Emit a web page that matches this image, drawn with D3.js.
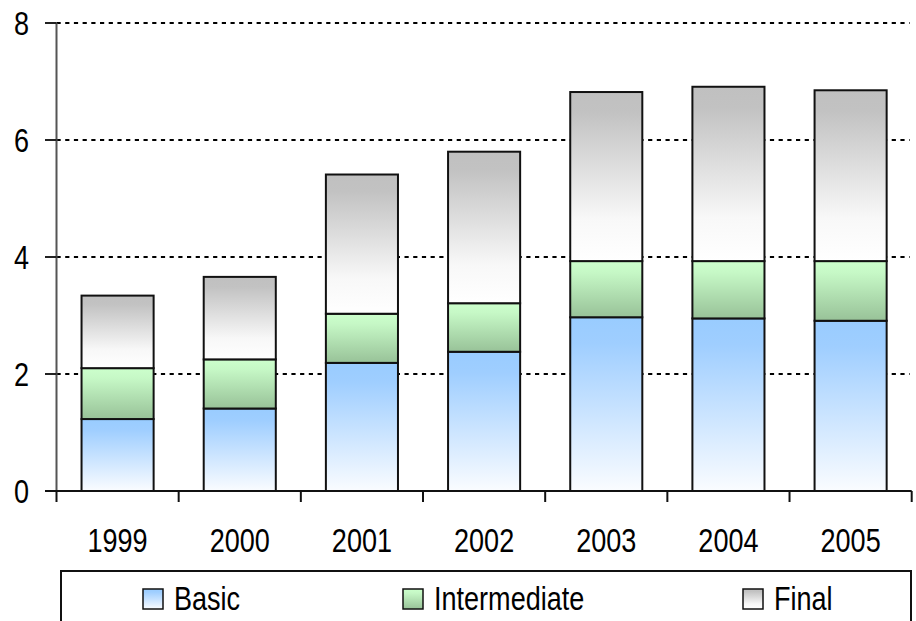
<!DOCTYPE html>
<html><head><meta charset="utf-8">
<script src="https://cdn.jsdelivr.net/npm/d3@7"></script>
<style>
html,body{margin:0;padding:0;background:#fff;}
svg{display:block;}
text{font-family:"Liberation Sans",Arial,sans-serif;fill:#000;}
</style></head>
<body>
<svg id="c" width="916" height="621"></svg>
<script>
const years = ["1999","2000","2001","2002","2003","2004","2005"];
const basic = [1.23, 1.41, 2.19, 2.38, 2.97, 2.95, 2.91];
const intermediate = [0.87, 0.84, 0.84, 0.83, 0.96, 0.98, 1.02];
const finalS = [1.24, 1.41, 2.38, 2.59, 2.89, 2.98, 2.92];
const seriesNames = ["Basic","Intermediate","Final"];
const yTicks = [0,2,4,6,8];

const svg = d3.select("#c");
const pLeft = 56.5, pRight = 911.7, pTop = 23, pBottom = 491;
const narrow = 0.82;

const x = d3.scaleBand().domain(years).range([pLeft, pRight]).paddingInner(0.41).paddingOuter(0.205);
const y = d3.scaleLinear().domain([0, 8]).range([pBottom, pTop]);

// gradients
const defs = svg.append("defs");
const grads = [
  {id:"gB", stops:[[0,"#99CCFF"],[0.15,"#9FCEFF"],[1,"#FAFCFF"]]},
  {id:"gI", stops:[[0,"#CCFFCC"],[0.2,"#C6F8C6"],[1,"#98C298"]]},
  {id:"gF", stops:[[0,"#C0C0C0"],[0.12,"#C2C2C2"],[0.75,"#F8F8F8"],[1,"#FFFFFF"]]}
];
grads.forEach(g => {
  const lgd = defs.append("linearGradient").attr("id", g.id).attr("x1",0).attr("y1",0).attr("x2",0).attr("y2",1);
  g.stops.forEach(s => lgd.append("stop").attr("offset", s[0]).attr("stop-color", s[1]));
});
const fills = ["url(#gB)","url(#gI)","url(#gF)"];

// gridlines
svg.append("g").selectAll("line").data(yTicks.filter(d => d > 0)).join("line")
  .attr("x1", pLeft).attr("x2", pRight - 2)
  .attr("y1", d => y(d)).attr("y2", d => y(d))
  .attr("stroke", "#000").attr("stroke-width", 2.2).attr("stroke-dasharray", "4.2,4.5");

// stacked data
const table = years.map((yr, i) => ({year: yr, Basic: basic[i], Intermediate: intermediate[i], Final: finalS[i]}));
const stack = d3.stack().keys(seriesNames)(table);

svg.append("g").selectAll("g").data(stack).join("g")
  .attr("fill", (d, i) => fills[i])
  .selectAll("rect").data(d => d).join("rect")
  .attr("x", d => x(d.data.year))
  .attr("width", x.bandwidth())
  .attr("y", d => y(d[1]))
  .attr("height", d => y(d[0]) - y(d[1]))
  .attr("stroke", "#111").attr("stroke-width", 2);

// y axis
const ya = svg.append("g");
ya.append("line").attr("x1", pLeft).attr("x2", pLeft).attr("y1", pTop).attr("y2", pBottom)
  .attr("stroke", "#555").attr("stroke-width", 2);
ya.selectAll("line.t").data(yTicks).join("line").attr("class","t")
  .attr("x1", 45).attr("x2", pLeft).attr("y1", d => y(d)).attr("y2", d => y(d))
  .attr("stroke", "#222").attr("stroke-width", 2);
ya.selectAll("text").data(yTicks).join("text")
  .attr("transform", d => `translate(29,${y(d) + 12}) scale(${narrow},1)`)
  .attr("text-anchor", "end").attr("font-size", 33)
  .text(d => d);

// x axis
const xa = svg.append("g");
xa.append("line").attr("x1", 45).attr("x2", pRight).attr("y1", pBottom).attr("y2", pBottom)
  .attr("stroke", "#111").attr("stroke-width", 2);
const gap = x.step() - x.bandwidth();
const bounds = years.map(d => x(d) - gap / 2).concat([pRight]);
xa.selectAll("line.t").data(bounds).join("line").attr("class","t")
  .attr("x1", d => d).attr("x2", d => d).attr("y1", pBottom).attr("y2", 502)
  .attr("stroke", "#111").attr("stroke-width", 2);
xa.selectAll("text").data(years).join("text")
  .attr("transform", d => `translate(${x(d) + x.bandwidth() / 2},552) scale(${narrow},1)`)
  .attr("text-anchor", "middle").attr("font-size", 33)
  .text(d => d);

// legend
const lg = svg.append("g");
lg.append("rect").attr("x", 61).attr("y", 571).attr("width", 850).attr("height", 60)
  .attr("fill", "none").attr("stroke", "#111").attr("stroke-width", 2);
const legX = [143, 403, 743];
const items = lg.selectAll("g").data(seriesNames).join("g")
  .attr("transform", (d, i) => `translate(${legX[i]},0)`);
items.append("rect").attr("x", 0).attr("y", 589).attr("width", 20).attr("height", 20)
  .attr("fill", (d, i) => fills[i]).attr("stroke", "#111").attr("stroke-width", 1.5);
items.append("text").attr("transform", `translate(31,610) scale(${narrow},1)`)
  .attr("font-size", 33).text(d => d);
</script>
</body></html>
